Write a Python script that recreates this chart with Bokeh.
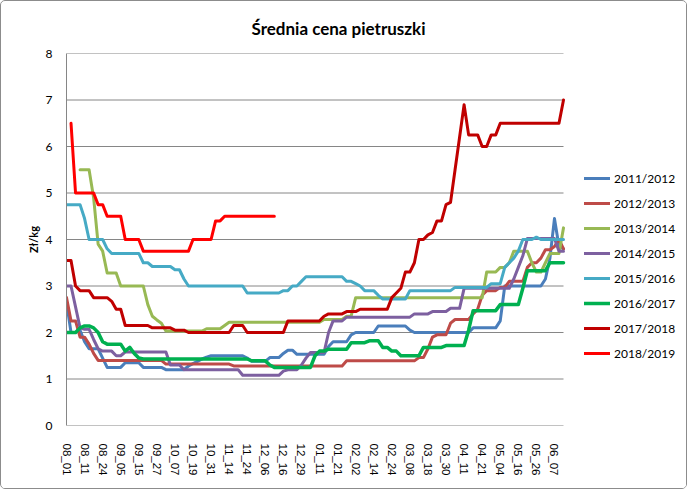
import numpy as np
from bokeh.plotting import figure
from bokeh.models import Range1d, FixedTicker, Legend, LegendItem
from bokeh.embed import file_html
from bokeh.resources import INLINE

# ---------------- data ----------------
tick_labels = ["08_01", "08_11", "08_24", "09_05", "09_15", "09_27", "10_07", "10_19",
               "10_31", "11_14", "11_24", "12_06", "12_16", "12_29", "01_11", "01_21",
               "02_02", "02_14", "02_24", "03_08", "03_18", "03_30", "04_11", "04_21",
               "05_04", "05_16", "05_26", "06_07"]
points_per_label = 4
y_ticks = [0, 1, 2, 3, 4, 5, 6, 7, 8]

season_names = ["2011/2012", "2012/2013", "2013/2014", "2014/2015",
                "2015/2016", "2016/2017", "2017/2018", "2018/2019"]

s2011 = [2.65, 2.0, 2.0, 2.05, 1.8, 1.65, 1.65, 1.65, 1.45,
         1.25, 1.25, 1.25, 1.25, 1.35, 1.35, 1.35, 1.35,
         1.25, 1.25, 1.25, 1.25, 1.25, 1.2, 1.2, 1.2, 1.2, 1.2,
         1.28, 1.33, 1.38, 1.43, 1.47,
         1.5, 1.5, 1.5, 1.5, 1.5, 1.5, 1.5, 1.5,
         1.45, 1.38, 1.38, 1.38, 1.38, 1.46, 1.46, 1.46, 1.55, 1.62, 1.62,
         1.53, 1.53, 1.53, 1.53, 1.53, 1.53, 1.53,
         1.7, 1.8, 1.8, 1.8, 1.8, 1.95, 2.0, 2.0, 2.0, 2.0, 2.0,
         2.14, 2.14, 2.14, 2.14, 2.14, 2.14, 2.14, 2.05,
         2.0, 2.0, 2.0, 2.0, 2.0, 2.0, 2.0, 2.0, 2.0, 2.0, 2.0, 2.0, 2.0,
         2.1, 2.1, 2.1, 2.1, 2.1, 2.1, 2.25,
         3.0, 3.0, 3.0, 3.0, 3.0, 3.0, 3.0, 3.0, 3.0,
         3.15, 3.6, 4.45, 3.85, 3.8]

s2012 = [2.75, 2.25, 2.25, 1.9, 1.9, 1.75, 1.55,
         1.4, 1.4, 1.4, 1.4, 1.4, 1.4, 1.4, 1.4, 1.4, 1.4, 1.4, 1.4, 1.4, 1.4, 1.4,
         1.32, 1.32, 1.32, 1.32, 1.32, 1.32, 1.32, 1.32, 1.32, 1.32, 1.32, 1.32, 1.32, 1.32, 1.32,
         1.28, 1.28, 1.28, 1.28, 1.28, 1.28, 1.28, 1.28, 1.28, 1.28, 1.28, 1.28, 1.28,
         1.28, 1.28, 1.28, 1.28, 1.28, 1.28, 1.28, 1.28, 1.28, 1.28, 1.28, 1.28,
         1.39, 1.39, 1.39, 1.39, 1.39, 1.39, 1.39, 1.39, 1.39, 1.39, 1.39, 1.39, 1.39, 1.39, 1.39, 1.39,
         1.46, 1.46, 1.65, 1.9, 1.95, 1.95, 1.95, 2.2, 2.28, 2.28, 2.28, 2.28,
         2.4, 2.5, 2.8, 2.9, 2.9, 2.9, 2.97, 2.97, 3.1, 3.1, 3.1, 3.1,
         3.4, 3.5, 3.5, 3.6, 3.78, 3.78, 3.85, 4.0, 3.8]

s2013 = [None, None, None, 5.5, 5.5, 5.5, 4.9, 3.9, 3.75, 3.28, 3.28, 3.28,
         3.0, 3.0, 3.0, 3.0, 3.0, 3.0, 2.6, 2.35, 2.27, 2.2,
         2.03, 2.03, 2.03, 2.03, 2.03, 2.03, 2.03, 2.03, 2.03,
         2.08, 2.08, 2.08, 2.08, 2.15,
         2.22, 2.22, 2.22, 2.22, 2.22, 2.22, 2.22, 2.22, 2.22, 2.22, 2.22,
         2.22, 2.22, 2.22, 2.22, 2.22, 2.22, 2.22, 2.22, 2.22, 2.22,
         2.28, 2.28, 2.28, 2.28, 2.28, 2.35, 2.35,
         2.75, 2.75, 2.75, 2.75, 2.75, 2.75, 2.75, 2.75, 2.75, 2.75,
         2.75, 2.75, 2.75, 2.75, 2.75, 2.75, 2.75, 2.75, 2.75, 2.75,
         2.75, 2.75, 2.75, 2.75, 2.75, 2.75, 2.75, 2.75, 2.75,
         3.3, 3.3, 3.3, 3.4, 3.4, 3.5, 3.75, 3.75, 3.75, 3.75,
         3.5, 3.3, 3.3, 3.5, 3.7, 3.7, 3.7, 4.25]

s2014 = [3.0, 3.0, 2.55, 2.1, 2.07, 2.07, 1.85, 1.65, 1.6, 1.6, 1.6, 1.5, 1.5,
         1.58, 1.58, 1.58, 1.58, 1.58, 1.58, 1.58, 1.58, 1.58, 1.58,
         1.3, 1.3, 1.3,
         1.2, 1.2, 1.2, 1.2, 1.2, 1.2, 1.2, 1.2, 1.2, 1.2, 1.2, 1.2, 1.2,
         1.08, 1.08, 1.08, 1.08, 1.08, 1.08, 1.08, 1.08, 1.08,
         1.17, 1.2, 1.2, 1.2, 1.3, 1.45, 1.57, 1.57, 1.57, 1.57,
         2.0, 2.25, 2.25, 2.25,
         2.33, 2.33, 2.33, 2.33, 2.33, 2.33, 2.33, 2.33, 2.33, 2.33, 2.33, 2.33, 2.33, 2.33, 2.33,
         2.4, 2.4, 2.4, 2.4, 2.45, 2.45, 2.45, 2.45, 2.52, 2.52, 2.52,
         2.95, 2.95, 2.95, 2.95, 2.95, 2.95, 2.95, 2.95, 2.95, 2.95, 2.95,
         3.15, 3.4, 3.65, 4.02, 4.02, 4.02, 4.02, 4.02, 4.02, 4.02, 3.75, 3.75]

s2015 = [4.75, 4.75, 4.75, 4.75, 4.45, 4.0, 4.0, 4.0, 4.0, 3.8,
         3.7, 3.7, 3.7, 3.7, 3.7, 3.7, 3.7, 3.5, 3.5,
         3.42, 3.42, 3.42, 3.42, 3.42, 3.35, 3.35, 3.15,
         3.0, 3.0, 3.0, 3.0, 3.0, 3.0, 3.0, 3.0, 3.0, 3.0, 3.0, 3.0, 3.0,
         2.85, 2.85, 2.85, 2.85, 2.85, 2.85, 2.85, 2.85,
         2.9, 2.9, 3.0, 3.0, 3.1,
         3.2, 3.2, 3.2, 3.2, 3.2, 3.2, 3.2, 3.2, 3.2,
         3.1, 3.1, 3.05, 3.0, 2.9, 2.9, 2.9, 2.8,
         2.72, 2.72, 2.72, 2.72, 2.72, 2.72,
         2.9, 2.9, 2.9, 2.9, 2.9, 2.9, 2.9, 2.9, 2.9, 2.9,
         2.97, 2.97, 2.97, 2.97, 2.97, 2.97, 2.97, 2.97,
         3.05, 3.05, 3.05, 3.4, 3.5, 3.6, 3.75, 4.0, 4.0, 4.0, 4.05,
         4.0, 4.0, 4.0, 4.0, 4.0, 4.0]

s2016 = [2.0, 2.0, 2.0, 2.1, 2.14, 2.14, 2.1, 2.0, 1.8, 1.75, 1.75, 1.75, 1.75,
         1.6, 1.68, 1.55, 1.45,
         1.43, 1.43, 1.43, 1.43, 1.43, 1.43, 1.43, 1.43, 1.43, 1.43, 1.43, 1.43,
         1.43, 1.43, 1.43, 1.43, 1.43, 1.43, 1.43, 1.43, 1.43, 1.43, 1.43, 1.43,
         1.39, 1.39, 1.39, 1.39, 1.3,
         1.25, 1.25, 1.25, 1.25, 1.25, 1.25, 1.25, 1.25, 1.25,
         1.5, 1.6, 1.6, 1.64, 1.64, 1.64, 1.64, 1.64,
         1.78, 1.78, 1.78, 1.78, 1.82, 1.82, 1.82, 1.68, 1.68, 1.6, 1.6,
         1.5, 1.5, 1.5, 1.5, 1.5, 1.68, 1.68, 1.68, 1.68, 1.68,
         1.72, 1.72, 1.72, 1.72, 1.72, 2.05,
         2.47, 2.47, 2.47, 2.47, 2.47, 2.47, 2.6, 2.6, 2.6, 2.6, 2.6, 2.95,
         3.33, 3.33, 3.33, 3.33, 3.33, 3.5, 3.5, 3.5, 3.5]

s2017 = [3.55, 3.55, 3.0, 2.9, 2.9, 2.9, 2.75, 2.75, 2.75, 2.75, 2.67, 2.5, 2.5,
         2.15, 2.15, 2.15, 2.15, 2.15, 2.15, 2.1, 2.1, 2.1, 2.1, 2.1, 2.05, 2.05, 2.05,
         2.0, 2.0, 2.0, 2.0, 2.0, 2.0, 2.0, 2.0, 2.0, 2.0, 2.15, 2.15, 2.15,
         2.0, 2.0, 2.0, 2.0, 2.0, 2.0, 2.0, 2.0, 2.0,
         2.25, 2.25, 2.25, 2.25, 2.25, 2.25, 2.25, 2.25, 2.35,
         2.4, 2.4, 2.4, 2.4, 2.45, 2.45, 2.45,
         2.5, 2.5, 2.5, 2.5, 2.5, 2.5, 2.5, 2.75, 2.85, 2.95, 3.3, 3.3, 3.5,
         4.0, 4.0, 4.1, 4.15, 4.4, 4.4, 4.75, 4.8, 5.5, 6.2, 6.9,
         6.25, 6.25, 6.25, 6.0, 6.0, 6.25, 6.25,
         6.5, 6.5, 6.5, 6.5, 6.5, 6.5, 6.5, 6.5, 6.5, 6.5, 6.5, 6.5, 6.5, 6.5, 7.0]

s2018 = [None, 6.5, 5.0, 5.0, 5.0, 5.0, 5.0, 4.75, 4.75, 4.5, 4.5, 4.5, 4.5,
         4.0, 4.0, 4.0, 4.0, 3.75, 3.75, 3.75, 3.75, 3.75, 3.75, 3.75, 3.75, 3.75, 3.75, 3.75,
         4.0, 4.0, 4.0, 4.0, 4.0, 4.4, 4.4,
         4.5, 4.5, 4.5, 4.5, 4.5, 4.5, 4.5, 4.5, 4.5, 4.5, 4.5, 4.5]

series = [s2011, s2012, s2013, s2014, s2015, s2016, s2017, s2018]
colors = ["#4A7EBB", "#BE4B48", "#98B954", "#7D60A0",
          "#46AAC5", "#00B050", "#C00000", "#FF0000"]
widths = [3, 3, 3, 3, 3, 3.5, 3, 3]

# ---------------- layout constants (pixels, inside the 1px chart border) ----------------
W, H = 687, 489
frame_left, frame_top, frame_bottom, frame_right = 65, 51, 424, 683
data_right = 562          # where the last category sits

n_points = max(len(s) for s in series)
last = n_points - 1
x_view_end = last * (frame_right - frame_left) / (data_right - frame_left)

p = figure(width=W, height=H, output_backend="svg", toolbar_location=None,
           x_range=Range1d(0, x_view_end), y_range=Range1d(0, 8),
           min_border_left=frame_left, min_border_right=W - frame_right,
           min_border_top=frame_top, min_border_bottom=H - frame_bottom)
p.styles = {"border": "1px solid #8c8c8c", "border-radius": "5px", "overflow": "hidden"}
p.outline_line_color = None
p.background_fill_color = "white"
p.border_fill_color = "white"

p.title.text = "Średnia cena pietruszki"
p.title.align = "left"
p.title.offset = 185
p.title.text_font = "Lato"
p.title.text_font_size = "17px"
p.title.text_font_style = "bold"
p.title.text_color = "black"
p.title.standoff = 29

# horizontal gridlines only across the category span
p.segment(x0=[0] * len(y_ticks), y0=y_ticks, x1=[last] * len(y_ticks), y1=y_ticks,
          line_color="#868686", line_width=1)

items = []
for name, vals, col, w in zip(season_names, series, colors, widths):
    y = np.array(vals, dtype=float)
    x = np.arange(len(y))
    r = p.line(x, y, line_color=col, line_width=w, line_join="round", line_cap="round")
    items.append(LegendItem(label=name, renderers=[r]))

# axes
tick_pos = [i * points_per_label for i in range(len(tick_labels))]
p.xaxis.ticker = FixedTicker(ticks=tick_pos)
p.xaxis.major_label_overrides = {t: lab for t, lab in zip(tick_pos, tick_labels)}
p.xaxis.major_label_orientation = "vertical"
p.xaxis.major_label_text_font = "Liberation Sans"
p.xaxis.major_label_text_font_size = "11.5px"
p.xaxis.major_label_text_color = "black"
p.xaxis.major_label_standoff = 12
p.xaxis.axis_line_color = None
p.xaxis.major_tick_line_color = None
p.xaxis.minor_tick_line_color = None

p.yaxis.ticker = FixedTicker(ticks=y_ticks)
p.yaxis.major_label_text_font = "Lato"
p.yaxis.major_label_text_font_size = "12px"
p.yaxis.major_label_text_color = "black"
p.yaxis.major_label_standoff = 8
p.yaxis.axis_line_color = "#868686"
p.yaxis.major_tick_line_color = None
p.yaxis.minor_tick_line_color = None
p.yaxis.axis_label = "Zł/kg"
p.yaxis.axis_label_text_font = "Lato"
p.yaxis.axis_label_text_font_size = "11px"
p.yaxis.axis_label_text_font_style = "bold"
p.yaxis.axis_label_text_color = "black"
p.yaxis.axis_label_standoff = 3

p.xgrid.grid_line_color = None
p.ygrid.grid_line_color = None

legend = Legend(items=items, location=(583 - frame_left, frame_bottom - 363),
                orientation="vertical",
                glyph_width=26, glyph_height=22, label_height=22, spacing=3,
                padding=0, margin=0, label_standoff=4,
                label_text_font="Lato", label_text_font_size="12px",
                label_text_color="black",
                border_line_color=None, background_fill_alpha=0)
p.add_layout(legend)

open("out.html", "w").write(file_html(p, INLINE))
